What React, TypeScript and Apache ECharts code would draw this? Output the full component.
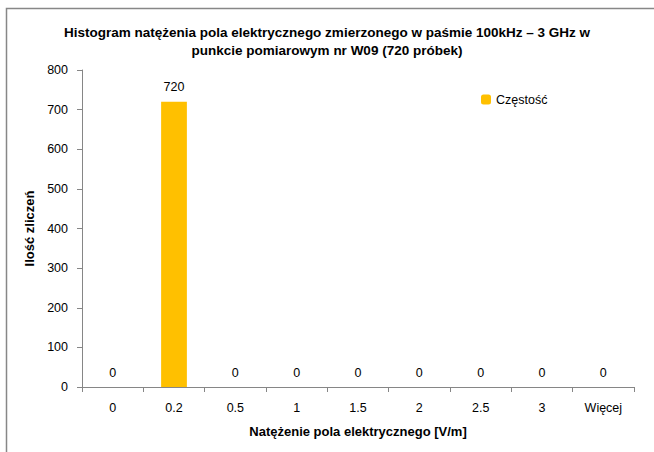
import React, { useEffect, useRef } from "react";
import * as echarts from "echarts";

const categories = ["0", "0.2", "0.5", "1", "1.5", "2", "2.5", "3", "Więcej"];
const counts = [0, 720, 0, 0, 0, 0, 0, 0, 0];
const seriesName = "Częstość";
const titleText = "Histogram natężenia pola elektrycznego zmierzonego w paśmie 100kHz – 3 GHz w\npunkcie pomiarowym nr W09 (720 próbek)";
const xName = "Natężenie pola elektrycznego [V/m]";
const yName = "Ilość zliczeń";

const FONT = "'Liberation Sans', Arial, sans-serif";

export default function App() {
  const ref = useRef<HTMLDivElement>(null);
  useEffect(() => {
    if (!ref.current) return;
    const chart = echarts.init(ref.current, null, { renderer: "svg" });
    chart.setOption({
      animation: false,
      backgroundColor: "#ffffff",
      textStyle: { fontFamily: FONT },
      title: {
        text: titleText,
        left: "center",
        top: 18,
        textStyle: { fontSize: 13.5, fontWeight: "bold", color: "#000", lineHeight: 18, fontFamily: FONT },
      },
      legend: {
        data: [seriesName],
        left: 476,
        top: 88,
        itemWidth: 10,
        itemHeight: 10,
        itemGap: 3,
        textStyle: { fontSize: 12.5, color: "#000", fontFamily: FONT },
      },
      graphic: [
        {
          type: "rect",
          shape: { x: 6.5, y: 8.5, width: 700, height: 500 },
          style: { fill: "none", stroke: "#878787", lineWidth: 1.5 },
          silent: true,
        },
      ],
      grid: { left: 82, right: 20, top: 70, bottom: 65 },
      xAxis: {
        type: "category",
        data: categories,
        name: xName,
        nameLocation: "middle",
        nameGap: 38,
        nameTextStyle: { fontSize: 13, fontWeight: "bold", color: "#000", fontFamily: FONT },
        axisLine: { lineStyle: { color: "#868686" } },
        axisTick: { show: true, alignWithLabel: false, length: 5, lineStyle: { color: "#868686" } },
        axisLabel: { fontSize: 12.5, color: "#000", margin: 14, fontFamily: FONT },
      },
      yAxis: {
        type: "value",
        min: 0,
        max: 800,
        interval: 100,
        name: yName,
        nameLocation: "middle",
        nameGap: 45,
        nameTextStyle: { fontSize: 13, fontWeight: "bold", color: "#000", fontFamily: FONT },
        axisLine: { show: true, lineStyle: { color: "#868686" } },
        axisTick: { show: true, length: 5, lineStyle: { color: "#868686" } },
        axisLabel: { fontSize: 12.5, color: "#000", margin: 14, fontFamily: FONT },
        splitLine: { show: false },
      },
      series: [
        {
          name: seriesName,
          type: "bar",
          data: counts,
          barWidth: "42%",
          itemStyle: { color: "#FFC000" },
          label: {
            show: true,
            position: "top",
            distance: 8,
            fontSize: 12.5,
            color: "#000",
            fontFamily: FONT,
          },
        },
      ],
    });
    return () => chart.dispose();
  }, []);
  return (
    <div
      ref={ref}
      style={{ position: "fixed", left: 0, top: 0, width: 654, height: 452 }}
    />
  );
}
